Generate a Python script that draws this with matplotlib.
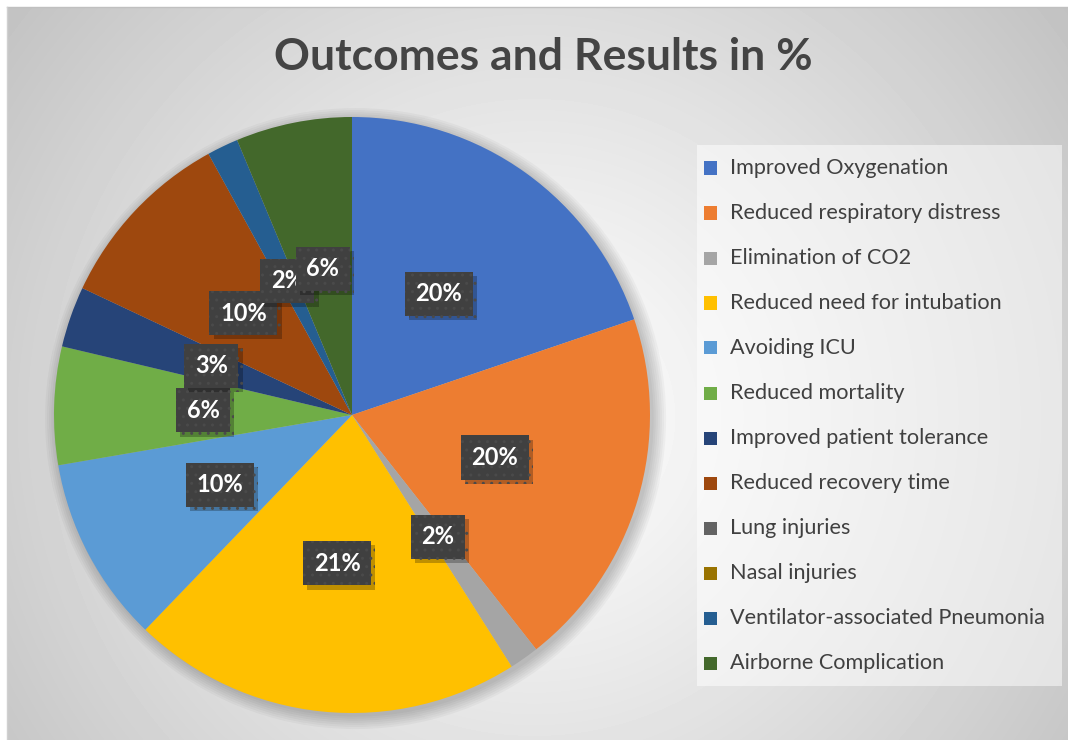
import numpy as np
import matplotlib.pyplot as plt
import matplotlib.patheffects as pe
from matplotlib.patches import Rectangle, Circle
from matplotlib.lines import Line2D

plt.rcParams['font.family'] = ['Lato', 'DejaVu Sans']
plt.rcParams['hatch.linewidth'] = 1.0

# ---- data ----
labels = [
    "Improved Oxygenation",
    "Reduced respiratory distress",
    "Elimination of CO2",
    "Reduced need for intubation",
    "Avoiding ICU",
    "Reduced mortality",
    "Improved patient tolerance",
    "Reduced recovery time",
    "Lung injuries",
    "Nasal injuries",
    "Ventilator-associated Pneumonia",
    "Airborne Complication",
]
values = [19.8, 19.6, 1.6, 21.2, 10.1, 6.4, 3.3, 10.0, 0, 0, 1.7, 6.3]
colors = ["#4472C4", "#ED7D31", "#A5A5A5", "#FFC000", "#5B9BD5", "#70AD47",
          "#264478", "#9E480E", "#636363", "#997300", "#255E91", "#43682B"]

W, H = 1068, 740
fig = plt.figure(figsize=(W / 100, H / 100), dpi=100)

# ---- radial gradient background ----
bg = fig.add_axes([7 / W, 0, 1 - 7 / W, 1 - 7 / H])
yy, xx = np.mgrid[0:H - 7, 0:W - 7]
d = np.hypot(xx - 527, yy - 410)
shade = 1 - 0.24 * (d / d.max()) ** 1.1
bg.imshow(shade, cmap="gray", vmin=0, vmax=1, aspect="auto", interpolation="bilinear")
bg.axis("off")
fig.add_artist(Line2D([7 / W, 1], [1 - 7 / H, 1 - 7 / H], color="#c0c0c0", lw=1))
fig.add_artist(Line2D([7 / W, 7 / W], [0, 1 - 7 / H], color="#d0d0d0", lw=1))

# ---- title ----
fig.text(543 / W, 1 - 57 / H, "Outcomes and Results in %", ha="center", va="center",
         fontsize=32, fontweight="bold", color="#444444")

# ---- pie ----
cx, cy, r = 352, 415, 298
ax = fig.add_axes([(cx - r) / W, (H - cy - r) / H, 2 * r / W, 2 * r / H])

# soft shadow round the pie
for k in range(7):
    ax.add_patch(Circle((0.012, -0.012), 1 + 0.007 * k, color="black",
                        alpha=0.03, lw=0, zorder=0, clip_on=False))


def fmt(p):
    return f"{p:.0f}%" if p >= 0.5 else ""


wedges, _, autotexts = ax.pie(values, colors=colors, startangle=90, counterclock=False,
                              autopct=fmt, pctdistance=0.5,
                              wedgeprops=dict(linewidth=0))
ax.set_xlim(-1, 1)
ax.set_ylim(-1, 1)
for w in wedges:
    w.set_zorder(1)

for t in autotexts:
    t.set_fontsize(17)
    t.set_fontweight("bold")
    t.set_color("white")
    t.set_zorder(3)
    if not t.get_text():
        continue
    t.set_bbox(dict(boxstyle="square,pad=0.45", facecolor="#404040",
                    edgecolor="#4a4a4a", linewidth=0, hatch=".."))
    t.get_bbox_patch().set_path_effects([
        pe.SimplePatchShadow(offset=(3, -3), shadow_rgbFace="black", alpha=0.25),
        pe.Normal(),
    ])

# ---- legend ----
fig.add_artist(Rectangle((697 / W, 1 - 686 / H), (1062 - 697) / W, (686 - 145) / H,
                         transform=fig.transFigure, facecolor="white", alpha=0.5,
                         edgecolor="none"))
for i, (lab, col) in enumerate(zip(labels, colors)):
    y = 168 + 45 * i
    fig.add_artist(Rectangle((704 / W, 1 - (y + 6.5) / H), 13 / W, 13 / H,
                             transform=fig.transFigure, facecolor=col, edgecolor="none"))
    fig.text(730 / W, 1 - y / H, lab, ha="left", va="center", fontsize=15.6,
             color="#404040")

fig.savefig("out.png", dpi=100)
